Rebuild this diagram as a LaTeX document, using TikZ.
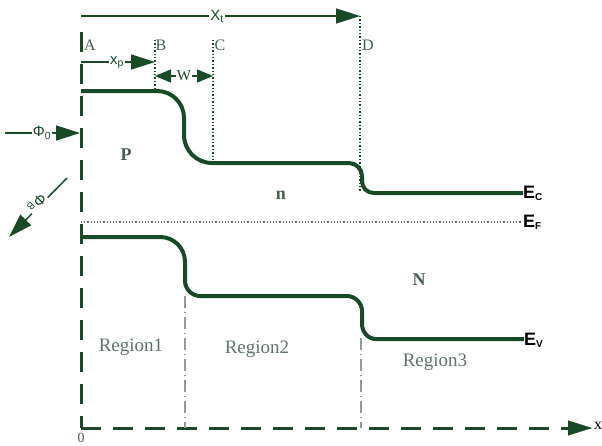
\documentclass[tikz,border=0pt]{standalone}
\usepackage{fontspec}
\setmainfont{Liberation Serif}
\setsansfont{Liberation Sans}
\usetikzlibrary{arrows.meta}
\definecolor{dg}{RGB}{24,74,40}
\definecolor{lab}{RGB}{70,95,80}
\definecolor{reg}{RGB}{95,115,105}
\newcommand{\smallsub}[1]{{\fontsize{10}{10}\selectfont\raisebox{-2pt}{#1}}}
\begin{document}
\begin{tikzpicture}[x=1pt,y=-1pt,
  band/.style={dg, line width=4pt},
  axisline/.style={dg, line width=3pt, dash pattern=on 20pt off 12pt},
  thinarrow/.style={dg, line width=1.5pt, -{Triangle[length=24pt,width=15pt]}},
  dblarrow/.style={dg, line width=1.5pt, {Triangle[length=16pt,width=13pt]}-{Triangle[length=16pt,width=13pt]}},
  guide/.style={dg, line width=1.4pt, dotted},
  fermi/.style={reg, line width=1.2pt, dotted},
  ddot/.style={reg!70, line width=1.2pt, dash pattern=on 12pt off 4pt on 1pt off 4pt},
  ptlabel/.style={lab, font=\fontsize{16}{16}\selectfont},
  arrlabel/.style={dg, fill=white, inner sep=1pt, font=\sffamily\fontsize{15}{15}\selectfont},
  elabel/.style={black, anchor=west, inner sep=1pt, font=\sffamily\bfseries\fontsize{18}{18}\selectfont},
  reglabel/.style={reg, font=\fontsize{19}{19}\selectfont},
  dlabel/.style={lab, font=\bfseries\fontsize{18}{18}\selectfont}
]
\useasboundingbox (0,0) rectangle (602,445);

% coordinates
\coordinate (top) at (81,32);
\coordinate (origin) at (81,428);
\coordinate (xend) at (592,428);
\coordinate (xtL) at (81,16);
\coordinate (xtR) at (360,16);
\coordinate (xpL) at (81,62);
\coordinate (xpR) at (155,62);
\coordinate (wL) at (155,76);
\coordinate (wR) at (213,76);
\coordinate (phi0S) at (5,133);
\coordinate (phi0E) at (80,133);
\coordinate (phiBS) at (67,178);
\coordinate (phiBE) at (9,237);

% axes
\draw[axisline] (top) -- (origin);
\draw[axisline] (origin) -- (xend);
\draw[dg, -{Triangle[length=24pt,width=15pt]}] ([xshift=-1pt]xend) -- (xend);
\node[black, anchor=west, inner sep=0pt, font=\fontsize{16}{16}\selectfont] (xlab) at (594,426) {x};
\node[lab, font=\fontsize{14}{14}\selectfont] (zero) at (81,438) {0};

% guide lines
\draw[guide] (155,40) -- (155,92);
\draw[guide] (213,40) -- (213,163);
\draw[guide] (360,16) -- (360,192);
\draw[ddot] (185,296) -- (185,428);
\draw[ddot] (361,338) -- (361,428);

% Fermi level
\draw[fermi] (81,222) -- (522,222);

% conduction band
\draw[band] (81,91) -- (157,91)
  .. controls (172,91) and (184,103) .. (184,118)
  -- (184,135)
  .. controls (184,150.5) and (196.5,163) .. (212,163)
  -- (349,163)
  .. controls (356,163) and (362,169) .. (362,176)
  -- (362,181)
  .. controls (362,188) and (367,193) .. (374,193)
  -- (523,193);

% valence band
\draw[band] (81,237) -- (160,237)
  .. controls (174,237) and (185,248) .. (185,262)
  -- (185,281)
  .. controls (185,289) and (192,296) .. (200,296)
  -- (347,296)
  .. controls (355,296) and (362,303) .. (362,311)
  -- (362,324)
  .. controls (362,332) and (368,339) .. (376,339)
  -- (524,339);

% arrows
\draw[thinarrow] (xtL) -- (xtR);
\node[arrlabel] (xt) at (217,16) {X\textsubscript{t}};
\draw[thinarrow] (xpL) -- (xpR);
\node[arrlabel] (xp) at (117,63) {x\textsubscript{p}};
\draw[dblarrow] (wL) -- (wR);
\node[arrlabel, font=\fontsize{15}{15}\selectfont] (w) at (184,76) {W};
\draw[thinarrow] (phi0S) -- (phi0E);
\node[arrlabel] (phi0) at (42,133) {Φ\textsubscript{0}};
\draw[thinarrow] (phiBS) -- (phiBE);
\node[arrlabel, rotate=225] (phiB) at (37,203) {Φ\hspace{1.5pt}{\fontsize{10}{10}\selectfont B}};

% point labels
\node[ptlabel] (A) at (90,45) {A};
\node[ptlabel] (B) at (161,45) {B};
\node[ptlabel] (C) at (220,45) {C};
\node[ptlabel] (D) at (368,45) {D};

% doping labels
\node[dlabel] (P) at (126,155) {P};
\node[dlabel] (n) at (281,195) {n};
\node[dlabel] (N) at (419,280) {N};

% energy labels
\node[elabel] (Ec) at (522,193) {E\smallsub{C}};
\node[elabel] (Ef) at (522,222) {E\smallsub{F}};
\node[elabel] (Ev) at (523,340) {E\smallsub{V}};

% region labels
\node[reglabel] (r1) at (131,347) {Region1};
\node[reglabel] (r2) at (257,349) {Region2};
\node[reglabel] (r3) at (435,362) {Region3};
\end{tikzpicture}
\end{document}
